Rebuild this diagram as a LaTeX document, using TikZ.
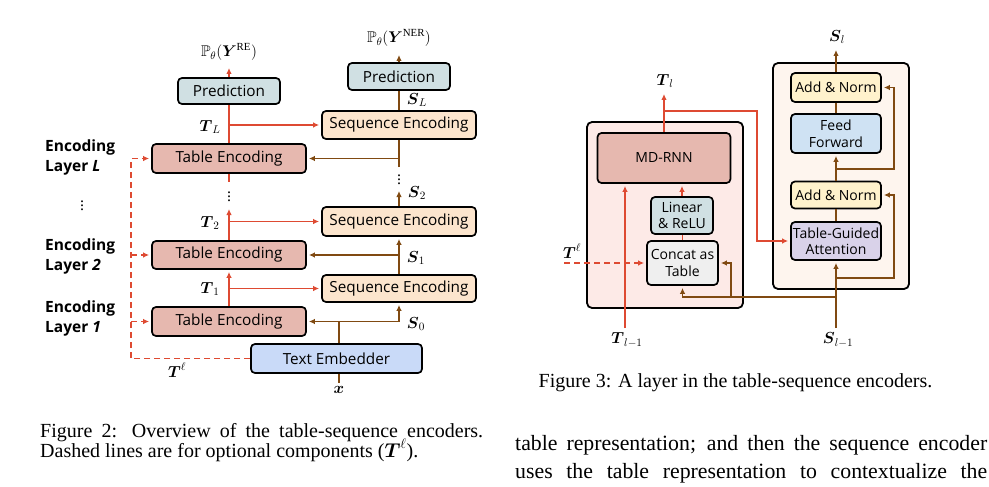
\documentclass[tikz,border=0pt]{standalone}
\usepackage{fix-cm}
\usepackage{amsmath,amssymb}
\usepackage{fontspec}
\setmainfont{Liberation Serif}
\newfontfamily\boxfont{Open Sans}
\usetikzlibrary{arrows.meta}
\definecolor{redc}{RGB}{222,74,50}
\definecolor{brownc}{RGB}{128,74,18}
\definecolor{predc}{RGB}{208,224,227}
\definecolor{seqc}{RGB}{252,229,205}
\definecolor{tabc}{RGB}{230,184,175}
\definecolor{embc}{RGB}{201,218,248}
\definecolor{anc}{RGB}{255,242,204}
\definecolor{ffc}{RGB}{207,226,243}
\definecolor{tgac}{RGB}{217,210,233}
\definecolor{catc}{RGB}{239,239,239}
\definecolor{bigLc}{RGB}{253,234,231}
\definecolor{bigRc}{RGB}{254,245,238}
\tikzset{
  bx/.style={draw=black, line width=1.7pt, rounded corners=4pt, inner sep=0pt, align=center,
    font=\boxfont\fontsize{15.3}{17}\selectfont},
  bxs/.style={bx, font=\boxfont\fontsize{14}{16.5}\selectfont},
  bigbox/.style={draw=black, line width=1.8pt, rounded corners=5pt, inner sep=0pt},
  rl/.style={draw=redc, line width=1.5pt},
  br/.style={draw=brownc, line width=1.5pt},
  arr/.style={-{Latex[length=6pt,width=5.5pt]}, shorten >=2pt},
  lbl/.style={inner sep=0pt, font=\fontsize{16}{18}\selectfont},
  plbl/.style={inner sep=0pt, font=\fontsize{15.5}{18}\selectfont},
  layl/.style={inner sep=0pt, anchor=west, align=left, font=\boxfont\bfseries\fontsize{15.5}{20}\selectfont},
  dsh/.style={dash pattern=on 6pt off 4pt}
}
\begin{document}
\begin{tikzpicture}[x=1pt,y=-1pt]
\useasboundingbox (0,0) rectangle (989,487);
\fill[white] (0,0) rectangle (989,487);

% ---------------- Figure 2 ----------------
\node[bx,fill=predc,minimum width=102pt,minimum height=26pt] (predRE) at (229,91) {Prediction};
\node[bx,fill=predc,minimum width=102pt,minimum height=27pt] (predNER) at (399,76.5) {Prediction};
\node[bx,fill=seqc,minimum width=154pt,minimum height=28pt] (seqL) at (399,125) {Sequence Encoding};
\node[bx,fill=tabc,minimum width=154pt,minimum height=29pt] (tabL) at (229,158.5) {Table Encoding};
\node[bx,fill=seqc,minimum width=154pt,minimum height=29pt] (seq2) at (399,221.5) {Sequence Encoding};
\node[bx,fill=tabc,minimum width=154pt,minimum height=28pt] (tab2) at (229,255) {Table Encoding};
\node[bx,fill=seqc,minimum width=154pt,minimum height=27pt] (seq1) at (399,288.5) {Sequence Encoding};
\node[bx,fill=tabc,minimum width=154pt,minimum height=29pt] (tab1) at (229,321.5) {Table Encoding};
\node[bx,fill=embc,minimum width=171pt,minimum height=29pt] (emb) at (336.5,358.5) {Text Embedder};

% red (table) path
\draw[rl] (tabL.north) -- (predRE.south);
\coordinate (yre) at (229,66);
\draw[rl,arr] (predRE.north) -- (yre);
\node[plbl] (pre) at (229,52) {$\mathbb{P}_\theta(\boldsymbol{Y}^{\mathrm{RE}})$};
\coordinate (jL) at (229,125);
\draw[rl,arr] (jL) -- (seqL.west);
\node[lbl] (TL) at (210,127) {$\boldsymbol{T}_L$};
\coordinate (tLb) at (229,182);
\draw[rl] (tabL.south) -- (tLb);
\node[lbl] (vdl) at (229,194) {$\vdots$};
\coordinate (t2t) at (229,207);
\draw[rl,arr] (tab2.north) -- (t2t);
\coordinate (j2) at (229,221.5);
\draw[rl,arr] (j2) -- (seq2.west);
\node[lbl] (T2) at (210,223) {$\boldsymbol{T}_2$};
\draw[rl,arr] (tab1.north) -- (tab2.south);
\coordinate (j1) at (229,288.5);
\draw[rl,arr] (j1) -- (seq1.west);
\node[lbl] (T1) at (210,289) {$\boldsymbol{T}_1$};

% brown (sequence) path
\coordinate (e1) at (339,321.5);
\coordinate (e2) at (399,321.5);
\draw[br,arr] (e1 |- emb.north) -- (e1) -- (tab1.east);
\draw[br,arr] (e1) -- (e2) -- (seq1.south);
\node[lbl] (S0) at (416,324) {$\boldsymbol{S}_0$};
\draw[br,arr] (seq1.north) -- (seq2.south);
\coordinate (b1) at (399,255);
\draw[br,arr] (b1) -- (tab2.east);
\node[lbl] (S1) at (416,258) {$\boldsymbol{S}_1$};
\coordinate (s2t) at (399,189);
\draw[br,arr] (seq2.north) -- (s2t);
\node[lbl] (S2) at (417,193) {$\boldsymbol{S}_2$};
\node[lbl] (vdr) at (399,177) {$\vdots$};
\coordinate (b3) at (399,167);
\draw[br] (b3) -- (seqL.south);
\coordinate (bL) at (399,158.5);
\draw[br,arr] (bL) -- (tabL.east);
\draw[br] (seqL.north) -- (predNER.south);
\node[lbl] (SL) at (417,100) {$\boldsymbol{S}_L$};
\coordinate (yner) at (399,53);
\draw[br,arr] (predNER.north) -- (yner);
\node[plbl] (pner) at (399,38) {$\mathbb{P}_\theta(\boldsymbol{Y}^{\mathrm{NER}})$};
\coordinate (xb) at (339,383);
\draw[br] (e1 |- emb.south) -- (xb);
\node[lbl] (xin) at (339,390) {$\boldsymbol{x}$};

% dashed optional input
\coordinate (d0) at (131,358.5);
\coordinate (dL) at (131,158.5);
\coordinate (d2) at (131,255);
\coordinate (d1) at (131,321.5);
\draw[rl,dsh,arr] (emb.west) -- (d0) -- (dL) -- (tabL.west);
\draw[rl,dsh,arr] (d2) -- (tab2.west);
\draw[rl,dsh,arr] (d1) -- (tab1.west);
\node[lbl] (Tell) at (177,370) {$\boldsymbol{T}^{\ell}$};

% layer labels
\node[layl] (encL) at (45,157) {Encoding\\Layer \textit{L}};
\node[lbl] (vdm) at (82,203) {$\vdots$};
\node[layl] (enc2) at (45,256) {Encoding\\Layer \textit{2}};
\node[layl] (enc1) at (45,318) {Encoding\\Layer \textit{1}};

% ---------------- Figure 3 ----------------
\node[bigbox,fill=bigLc,minimum width=156pt,minimum height=186pt] (bigL) at (665,215) {};
\node[bigbox,fill=bigRc,minimum width=136pt,minimum height=226pt] (bigR) at (841,176) {};

\node[bxs,fill=tabc,minimum width=133pt,minimum height=50pt] (mdrnn) at (664,158) {MD-RNN};
\node[bxs,fill=predc,minimum width=62pt,minimum height=37pt] (lin) at (682,215.5) {Linear\\\& ReLU};
\node[bxs,fill=catc,minimum width=71pt,minimum height=44pt] (concat) at (682.5,263) {Concat as\\Table};
\node[bxs,fill=anc,minimum width=90pt,minimum height=29pt] (an1) at (836,87.5) {Add \& Norm};
\node[bxs,fill=ffc,minimum width=90pt,minimum height=39pt] (ff) at (836,133.5) {Feed\\Forward};
\node[bxs,fill=anc,minimum width=90pt,minimum height=27pt] (an2) at (836,195) {Add \& Norm};
\node[bxs,fill=tgac,minimum width=90pt,minimum height=38pt] (tga) at (836,241) {Table-Guided\\Attention};

% red
\coordinate (tl1) at (625,328);
\draw[rl,arr] (tl1) -- (tl1 |- mdrnn.south);
\node[lbl] (Tl1) at (627,340) {$\boldsymbol{T}_{l-1}$};
\draw[rl] (concat.north) -- (concat.north |- lin.south);
\draw[rl,arr] (lin.north) -- (lin.north |- mdrnn.south);
\coordinate (tlt) at (664,92);
\draw[rl,arr] (mdrnn.north) -- (tlt);
\node[lbl] (Tl) at (665,81) {$\boldsymbol{T}_l$};
\coordinate (r1) at (664,111);
\coordinate (r2) at (757,111);
\coordinate (r3) at (757,241);
\draw[rl,arr] (r1) -- (r2) -- (r3) -- (tga.west);
\coordinate (dl) at (564,263);
\draw[rl,dsh,arr] (dl) -- (concat.west);
\node[lbl] (Tell2) at (572,251) {$\boldsymbol{T}^{\ell}$};

% brown
\coordinate (sl1) at (836,328);
\draw[br,arr] (sl1) -- (tga.south);
\node[lbl] (Sl1) at (838,340) {$\boldsymbol{S}_{l-1}$};
\coordinate (q1) at (836,297);
\coordinate (q2) at (682.5,297);
\draw[br,arr] (q1) -- (q2) -- (concat.south);
\coordinate (q3) at (731,297);
\coordinate (q4) at (731,263);
\draw[br,arr] (q3) -- (q4) -- (concat.east);
\coordinate (p1) at (836,278);
\coordinate (p2) at (894,278);
\coordinate (p3) at (894,195);
\draw[br,arr] (p1) -- (p2) -- (p3) -- (an2.east);
\draw[br] (tga.north) -- (an2.south);
\draw[br,arr] (an2.north) -- (ff.south);
\coordinate (o1) at (836,169);
\coordinate (o2) at (894,169);
\coordinate (o3) at (894,87.5);
\draw[br,arr] (o1) -- (o2) -- (o3) -- (an1.east);
\draw[br] (ff.north) -- (an1.south);
\coordinate (slt) at (836,48);
\draw[br,arr] (an1.north) -- (slt);
\node[lbl] (Sl) at (837,37) {$\boldsymbol{S}_l$};

% ---------------- captions and text ----------------
\node[anchor=base west, inner sep=0pt, font=\fontsize{20}{22}\selectfont] (cap2a) at (40,437)
  {\makebox[443pt][s]{Figure 2: Overview of the table-sequence encoders.}};
\node[anchor=base west, inner sep=0pt, font=\fontsize{20}{22}\selectfont] (cap2b) at (40,457)
  {Dashed lines are for optional components ($\boldsymbol{T}^{\ell}$).};
\node[anchor=base, inner sep=0pt, font=\fontsize{20}{22}\selectfont] (cap3) at (735.5,387)
  {Figure 3: A layer in the table-sequence encoders.};
\node[anchor=base west, inner sep=0pt, font=\fontsize{21.8}{24}\selectfont] (body1) at (515,450)
  {\makebox[472pt][s]{table representation; and then the sequence encoder}};
\node[anchor=base west, inner sep=0pt, font=\fontsize{21.8}{24}\selectfont] (body2) at (515,478)
  {\makebox[472pt][s]{uses the table representation to contextualize the}};
\end{tikzpicture}
\end{document}
